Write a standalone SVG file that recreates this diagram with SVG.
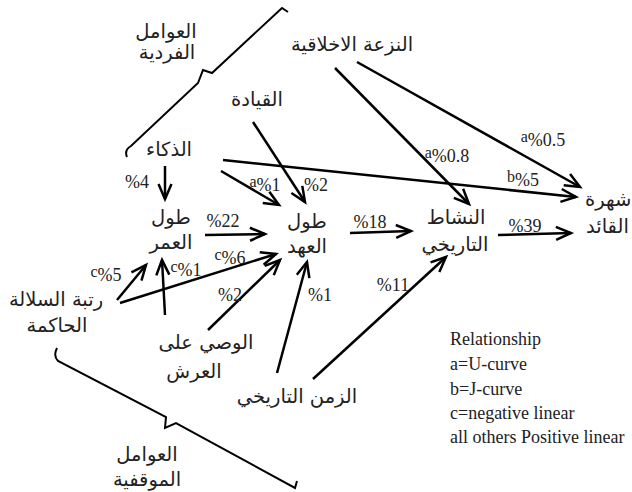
<svg xmlns="http://www.w3.org/2000/svg" width="632" height="492" viewBox="0 0 632 492">
<style>
.ar{font-family:"DejaVu Sans",sans-serif;font-size:19.5px;fill:#222;text-anchor:middle}
.lb{font-family:"Liberation Serif",serif;font-size:18px;fill:#222;text-anchor:middle}
.lg{font-family:"Liberation Serif",serif;font-size:18px;fill:#222}
.sup{font-size:16px}
.c{fill:none;stroke:#000;stroke-width:2.5}
.br{fill:none;stroke:#000;stroke-width:2}
</style>
<defs>
<marker id="ah" viewBox="-18 -9 22 18" markerWidth="22" markerHeight="18" refX="0" refY="0" orient="auto" markerUnits="userSpaceOnUse">
<path d="M-15,-6.5 L0,0 L-15,6.5" fill="none" stroke="#000" stroke-width="2.5" stroke-linejoin="miter"/>
</marker>
</defs>
<rect width="632" height="492" fill="#fff"/>
<g id="brackets">
<path class="br" d="M127,157 Q124,150 131,146 L198,83 L203,70 L212,73 L282,8 L288,12"/>
<path class="br" d="M57,348 Q53,356 58,361 L166,417 L165,428 L176,423 L295,488 L297,481"/>
</g>
<g id="connectors" marker-end="url(#ah)">
<path class="c" d="M165,166 L165,199"/>
<path class="c" d="M221,171 L279,205"/>
<path class="c" d="M223,160 L576,197"/>
<path class="c" d="M253,122 L305,202"/>
<path class="c" d="M335,68 L469,204"/>
<path class="c" d="M357,62 L580,187"/>
<path class="c" d="M205,235 L265,234"/>
<path class="c" d="M350,233 L411,231"/>
<path class="c" d="M498,235 L571,233"/>
<path class="c" d="M117,300 L146,265"/>
<path class="c" d="M120,303 L276,254"/>
<path class="c" d="M165,315 L162,260"/>
<path class="c" d="M208,330 L280,260"/>
<path class="c" d="M277,373 L307,262"/>
<path class="c" d="M313,379 L446,257"/>
</g>
<g id="edge-labels">
<text class="lb" x="137" y="188">%4</text>
<text class="lb" x="265" y="191"><tspan class="sup" dy="-4">a</tspan><tspan dy="4">%1</tspan></text>
<text class="lb" x="523" y="186"><tspan class="sup" dy="-4">b</tspan><tspan dy="4">%5</tspan></text>
<text class="lb" x="316" y="191">%2</text>
<text class="lb" x="447" y="162"><tspan class="sup" dy="-4">a</tspan><tspan dy="4">%0.8</tspan></text>
<text class="lb" x="543" y="146"><tspan class="sup" dy="-4">a</tspan><tspan dy="4">%0.5</tspan></text>
<text class="lb" x="223" y="227">%22</text>
<text class="lb" x="370" y="228">%18</text>
<text class="lb" x="525" y="232">%39</text>
<text class="lb" x="106" y="281"><tspan class="sup" dy="-4">c</tspan><tspan dy="4">%5</tspan></text>
<text class="lb" x="230" y="264"><tspan class="sup" dy="-4">c</tspan><tspan dy="4">%6</tspan></text>
<text class="lb" x="186" y="276"><tspan class="sup" dy="-4">c</tspan><tspan dy="4">%1</tspan></text>
<text class="lb" x="230" y="301">%2</text>
<text class="lb" x="320" y="301">%1</text>
<text class="lb" x="393" y="291">%11</text>
</g>
<g id="n-individual"><text class="ar" x="166" y="38">العوامل</text><text class="ar" x="167" y="59">الفردية</text></g>
<g id="n-moral"><text class="ar" x="352" y="51">النزعة الاخلاقية</text></g>
<g id="n-leadership"><text class="ar" x="257" y="106">القيادة</text></g>
<g id="n-intelligence"><text class="ar" x="169" y="156">الذكاء</text></g>
<g id="n-lifespan"><text class="ar" x="171" y="224">طول</text><text class="ar" x="171" y="249">العمر</text></g>
<g id="n-reign"><text class="ar" x="307" y="228">طول</text><text class="ar" x="307" y="253">العهد</text></g>
<g id="n-activity"><text class="ar" x="456" y="224">النشاط</text><text class="ar" x="455" y="251">التاريخي</text></g>
<g id="n-fame"><text class="ar" x="585" y="206" style="text-anchor:start">شهرة</text><text class="ar" x="586" y="233" style="text-anchor:start">القائد</text></g>
<g id="n-dynasty"><text class="ar" x="56" y="306">رتبة السلالة</text><text class="ar" x="57" y="332">الحاكمة</text></g>
<g id="n-regent"><text class="ar" x="206" y="349">الوصي على</text><text class="ar" x="194" y="378">العرش</text></g>
<g id="n-time"><text class="ar" x="297" y="403">الزمن التاريخي</text></g>
<g id="n-situational"><text class="ar" x="147" y="461">العوامل</text><text class="ar" x="147" y="486">الموقفية</text></g>
<g id="legend">
<text class="lg" x="450" y="345">Relationship</text>
<text class="lg" x="450" y="370">a=U-curve</text>
<text class="lg" x="450" y="395">b=J-curve</text>
<text class="lg" x="450" y="419">c=negative linear</text>
<text class="lg" x="450" y="443">all others Positive linear</text>
</g>
</svg>
